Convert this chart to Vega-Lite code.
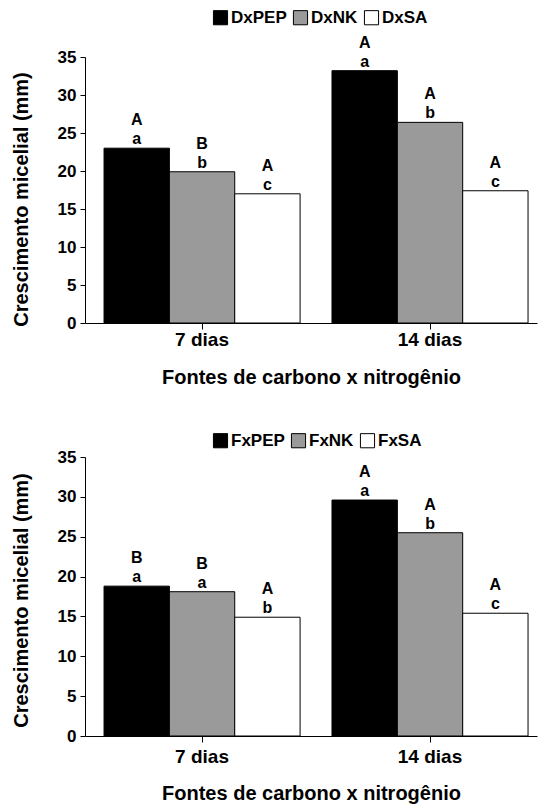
{
  "$schema": "https://vega.github.io/schema/vega-lite/v6.json",
  "padding": {"left": 11, "top": 9, "right": 3, "bottom": 5},
  "background": "white",
  "config": {
    "font": "Liberation Sans",
    "view": {"stroke": null},
    "concat": {"spacing": 45},
    "axis": {
      "grid": false,
      "labelFontWeight": "bold",
      "titleFontWeight": "bold",
      "labelColor": "black",
      "titleColor": "black",
      "domainColor": "black",
      "tickColor": "black",
      "labelFont": "Liberation Sans",
      "titleFont": "Liberation Sans"
    },
    "legend": {
      "labelFont": "Liberation Sans",
      "labelFontWeight": "bold",
      "labelFontSize": 17,
      "labelColor": "black"
    },
    "text": {"font": "Liberation Sans", "fontWeight": "bold", "fontSize": 16, "color": "black"}
  },
  "datasets": {
    "top": [
      {"dia": "7 dias", "serie": "DxPEP", "valor": 23.0, "maiuscula": "A", "minuscula": "a"},
      {"dia": "7 dias", "serie": "DxNK", "valor": 19.9, "maiuscula": "B", "minuscula": "b"},
      {"dia": "7 dias", "serie": "DxSA", "valor": 17.0, "maiuscula": "A", "minuscula": "c"},
      {"dia": "14 dias", "serie": "DxPEP", "valor": 33.2, "maiuscula": "A", "minuscula": "a"},
      {"dia": "14 dias", "serie": "DxNK", "valor": 26.4, "maiuscula": "A", "minuscula": "b"},
      {"dia": "14 dias", "serie": "DxSA", "valor": 17.4, "maiuscula": "A", "minuscula": "c"}
    ],
    "bottom": [
      {"dia": "7 dias", "serie": "FxPEP", "valor": 18.8, "maiuscula": "B", "minuscula": "a"},
      {"dia": "7 dias", "serie": "FxNK", "valor": 18.1, "maiuscula": "B", "minuscula": "a"},
      {"dia": "7 dias", "serie": "FxSA", "valor": 14.9, "maiuscula": "A", "minuscula": "b"},
      {"dia": "14 dias", "serie": "FxPEP", "valor": 29.6, "maiuscula": "A", "minuscula": "a"},
      {"dia": "14 dias", "serie": "FxNK", "valor": 25.5, "maiuscula": "A", "minuscula": "b"},
      {"dia": "14 dias", "serie": "FxSA", "valor": 15.4, "maiuscula": "A", "minuscula": "c"}
    ]
  },
  "vconcat": [
    {
      "width": 452,
      "height": 266,
      "data": {"name": "top"},
      "encoding": {
        "x": {
          "field": "dia", "type": "nominal", "sort": ["7 dias", "14 dias"],
          "scale": {"paddingInner": 0.14, "paddingOuter": 0.0614, "align": 0.68},
          "axis": {"title": "Fontes de carbono x nitrogênio", "labelAngle": 0, "labelFontSize": 19, "titleFontSize": 20, "tickSize": 6, "labelPadding": 1, "titlePadding": 18}
        },
        "xOffset": {"field": "serie", "type": "nominal", "sort": ["DxPEP", "DxNK", "DxSA"], "scale": {"paddingInner": 0, "paddingOuter": 0}},
        "y": {
          "field": "valor", "type": "quantitative",
          "scale": {"domain": [0, 35], "nice": false},
          "axis": {"title": "Crescimento micelial (mm)", "values": [0, 5, 10, 15, 20, 25, 30, 35], "labelFontSize": 17, "titleFontSize": 20, "tickSize": 5, "labelPadding": 4, "titlePadding": 26, "titleY": 142}
        }
      },
      "layer": [
        {
          "mark": {"type": "bar", "stroke": "black", "strokeWidth": 1},
          "encoding": {
            "fill": {
              "field": "serie", "type": "nominal",
              "scale": {"domain": ["DxPEP", "DxNK", "DxSA"], "range": ["#000000", "#9a9a9a", "#ffffff"]},
              "legend": {"title": null, "orient": "none", "direction": "horizontal", "legendX": 127, "legendY": -48, "symbolType": "square", "symbolSize": 200, "symbolStrokeColor": "black", "symbolStrokeWidth": 1, "symbolOpacity": 1, "labelOffset": 2, "columnPadding": 4}
            }
          }
        },
        {"mark": {"type": "text", "baseline": "alphabetic", "dy": -4}, "encoding": {"text": {"field": "minuscula"}}},
        {"mark": {"type": "text", "baseline": "alphabetic", "dy": -23}, "encoding": {"text": {"field": "maiuscula"}}}
      ]
    },
    {
      "width": 452,
      "height": 279,
      "data": {"name": "bottom"},
      "encoding": {
        "x": {
          "field": "dia", "type": "nominal", "sort": ["7 dias", "14 dias"],
          "scale": {"paddingInner": 0.14, "paddingOuter": 0.0614, "align": 0.68},
          "axis": {"title": "Fontes de carbono x nitrogênio", "labelAngle": 0, "labelFontSize": 19, "titleFontSize": 20, "tickSize": 6, "labelPadding": 5, "titlePadding": 17}
        },
        "xOffset": {"field": "serie", "type": "nominal", "sort": ["FxPEP", "FxNK", "FxSA"], "scale": {"paddingInner": 0, "paddingOuter": 0}},
        "y": {
          "field": "valor", "type": "quantitative",
          "scale": {"domain": [0, 35], "nice": false},
          "axis": {"title": "Crescimento micelial (mm)", "values": [0, 5, 10, 15, 20, 25, 30, 35], "labelFontSize": 17, "titleFontSize": 20, "tickSize": 5, "labelPadding": 4, "titlePadding": 26, "titleY": 143}
        }
      },
      "layer": [
        {
          "mark": {"type": "bar", "stroke": "black", "strokeWidth": 1},
          "encoding": {
            "fill": {
              "field": "serie", "type": "nominal",
              "scale": {"domain": ["FxPEP", "FxNK", "FxSA"], "range": ["#000000", "#9a9a9a", "#ffffff"]},
              "legend": {"title": null, "orient": "none", "direction": "horizontal", "legendX": 127, "legendY": -25, "symbolType": "square", "symbolSize": 200, "symbolStrokeColor": "black", "symbolStrokeWidth": 1, "symbolOpacity": 1, "labelOffset": 2, "columnPadding": 4}
            }
          }
        },
        {"mark": {"type": "text", "baseline": "alphabetic", "dy": -4}, "encoding": {"text": {"field": "minuscula"}}},
        {"mark": {"type": "text", "baseline": "alphabetic", "dy": -23}, "encoding": {"text": {"field": "maiuscula"}}}
      ]
    }
  ],
  "resolve": {"scale": {"fill": "independent", "xOffset": "independent"}}
}
